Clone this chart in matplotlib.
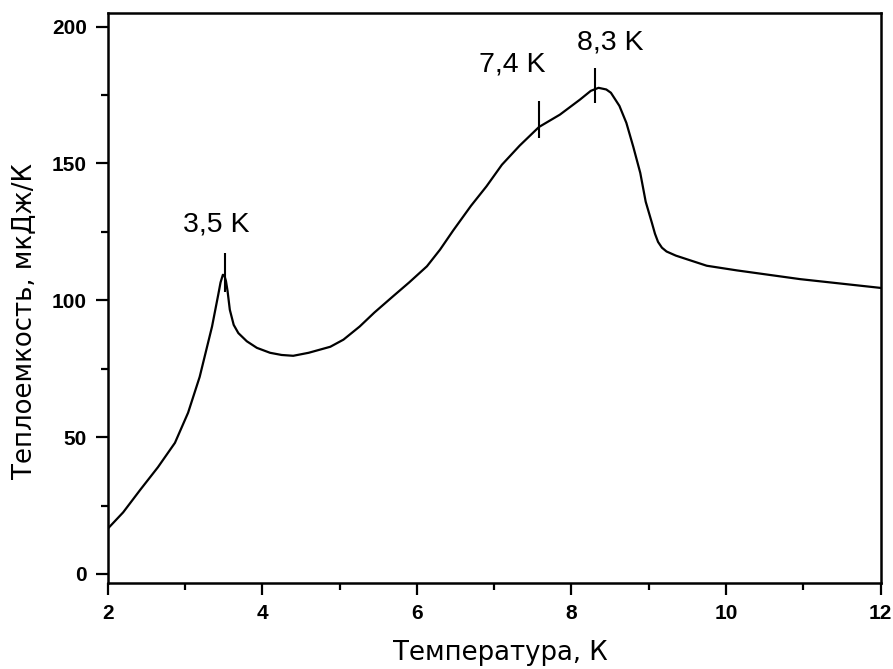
import numpy as np
import matplotlib.pyplot as plt
from matplotlib.ticker import MultipleLocator

# heat capacity vs temperature
temp = [2.00, 2.20, 2.42, 2.65, 2.87, 3.04, 3.19, 3.35, 3.43, 3.46, 3.49, 3.51,
        3.53, 3.55, 3.58, 3.63, 3.69, 3.80, 3.93, 4.10, 4.25, 4.40, 4.60, 4.88,
        5.05, 5.26, 5.45, 5.69, 5.90, 6.13, 6.30, 6.47, 6.70, 6.90, 7.10, 7.33,
        7.58, 7.85, 8.11, 8.25, 8.35, 8.45, 8.51, 8.62, 8.71, 8.80, 8.89, 8.96,
        9.04, 9.08, 9.12, 9.17, 9.23, 9.35, 9.49, 9.75, 10.14, 10.96, 12.00]
heat = [16.5, 22.5, 30.7, 39.0, 47.9, 58.9, 72.0, 90.4, 102.0, 106.5, 109.3, 109.0,
        107.0, 103.5, 96.5, 91.0, 88.0, 85.0, 82.6, 80.8, 80.0, 79.7, 80.8, 83.0,
        85.6, 90.4, 95.5, 101.4, 106.5, 112.4, 118.5, 125.5, 134.5, 141.6, 149.5, 156.5,
        163.3, 167.8, 173.3, 176.5, 177.6, 177.0, 175.8, 171.0, 164.8, 156.0, 146.5, 136.0,
        128.3, 124.3, 121.3, 119.2, 117.8, 116.3, 115.0, 112.6, 110.9, 107.7, 104.5]

# transition marks
mark_t = [3.52, 7.58, 8.30]
mark_lo = [103.0, 159.4, 172.0]
mark_hi = [117.4, 172.7, 184.9]
mark_text = ["3,5 K", "7,4 K", "8,3 K"]
text_x = [3.41, 7.24, 8.50]
text_y = [127.6, 186.0, 194.0]

fig = plt.figure(figsize=(8.93, 6.69), dpi=100)
ax = fig.add_axes([0.1206, 0.129, 0.8656, 0.851])

ax.plot(temp, heat, color="black", lw=1.6)
ax.vlines(mark_t, mark_lo, mark_hi, color="black", lw=1.5)
for tx, ty, s in zip(text_x, text_y, mark_text):
  ax.text(tx, ty, s, ha="center", va="center", fontsize=20.5,
          family="Liberation Sans")

ax.set_xlim(2, 12)
ax.set_ylim(-3.2, 204.8)
ax.xaxis.set_major_locator(MultipleLocator(2))
ax.xaxis.set_minor_locator(MultipleLocator(1))
ax.yaxis.set_major_locator(MultipleLocator(50))
ax.yaxis.set_minor_locator(MultipleLocator(25))

for sp in ax.spines.values():
  sp.set_linewidth(1.8)
ax.tick_params(which="both", direction="out", width=1.6, top=False, right=False)
ax.tick_params(which="major", length=8.6, pad=6.5)
ax.tick_params(which="minor", length=5)
for lab in ax.get_xticklabels() + ax.get_yticklabels():
  lab.set_family("Liberation Sans")
  lab.set_fontweight("bold")
  lab.set_fontsize(15)

ax.set_xlabel("Температура, К", fontsize=18.7, family="DejaVu Sans")
ax.set_ylabel("Теплоемкость, мкДж/К", fontsize=18.7, family="DejaVu Sans")
ax.xaxis.set_label_coords(0.5075, -0.1)
ax.yaxis.set_label_coords(-0.0915, 0.46)

fig.savefig("out.png", dpi=100)
